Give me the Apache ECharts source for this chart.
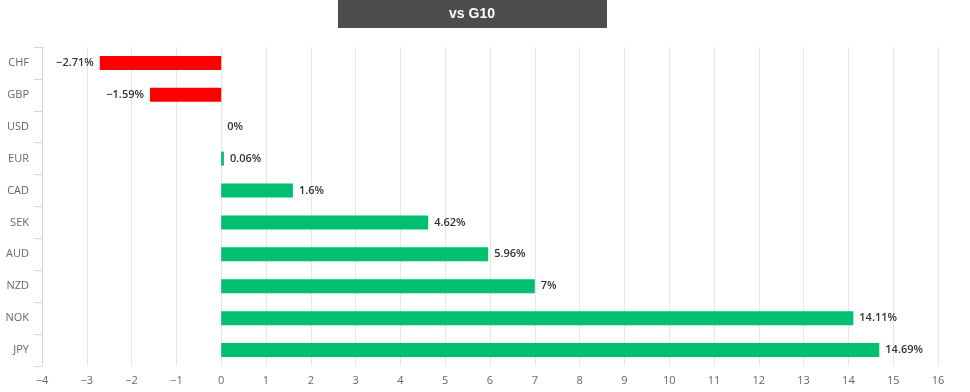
<!DOCTYPE html>
<html><head><meta charset="utf-8">
<script src="https://cdn.jsdelivr.net/npm/echarts@6/dist/echarts.min.js"></script>
<style>html,body{margin:0;padding:0;background:#fff}#c{width:970px;height:392px}</style>
</head><body><div id="c"></div>
<script>
const categories = ['CHF','GBP','USD','EUR','CAD','SEK','AUD','NZD','NOK','JPY'];
const values = [-2.71,-1.59,0,0.06,1.6,4.62,5.96,7,14.11,14.69];
const xTicks = {min:-4, max:16, interval:1};
const titleText = 'vs G10';
const FONT = '"Open Sans", "Noto Sans", sans-serif';
const fmt = v => String(v).replace('-', '\u2212');
const chart = echarts.init(document.getElementById('c'), null, {renderer:'canvas'});
chart.setOption({
  animation:false,
  graphic:[
    {type:'rect', shape:{x:338,y:0,width:269,height:28}, style:{fill:'#4d4d4d'}},
    {type:'text', x:472, y:14, style:{text:titleText, fill:'#fff', font:'bold 14px "Liberation Sans", Arial, sans-serif', align:'center', verticalAlign:'middle'}}
  ],
  grid:{left:42, right:32, top:47, bottom:26},
  xAxis:{type:'value', min:xTicks.min, max:xTicks.max, interval:xTicks.interval,
    axisLine:{show:false}, axisTick:{show:false},
    axisLabel:{color:'#666', fontSize:11, fontFamily:FONT, formatter:v=>fmt(v), margin:9},
    splitLine:{lineStyle:{color:'#e6e6e6'}}},
  yAxis:{type:'category', data:categories, inverse:true,
    axisLine:{show:true, onZero:false, lineStyle:{color:'#ccd6eb'}},
    axisTick:{show:true, length:8, lineStyle:{color:'#ccd6eb'}},
    axisLabel:{color:'#666', fontSize:11, fontFamily:FONT, margin:13},
    splitLine:{show:false}},
  series:[{type:'bar', barWidth:14,
    data: values.map(v=>({value:v,
      itemStyle:{color: v<0 ? '#ff0000' : '#00bf6f'},
      label:{position: v<0 ? 'left' : 'right'}})),
    label:{show:true, color:'#333', fontSize:11, fontWeight:600, fontFamily:FONT, distance:6,
      formatter:p=>fmt(p.value)+'%'}
  }]
});
</script></body></html>
